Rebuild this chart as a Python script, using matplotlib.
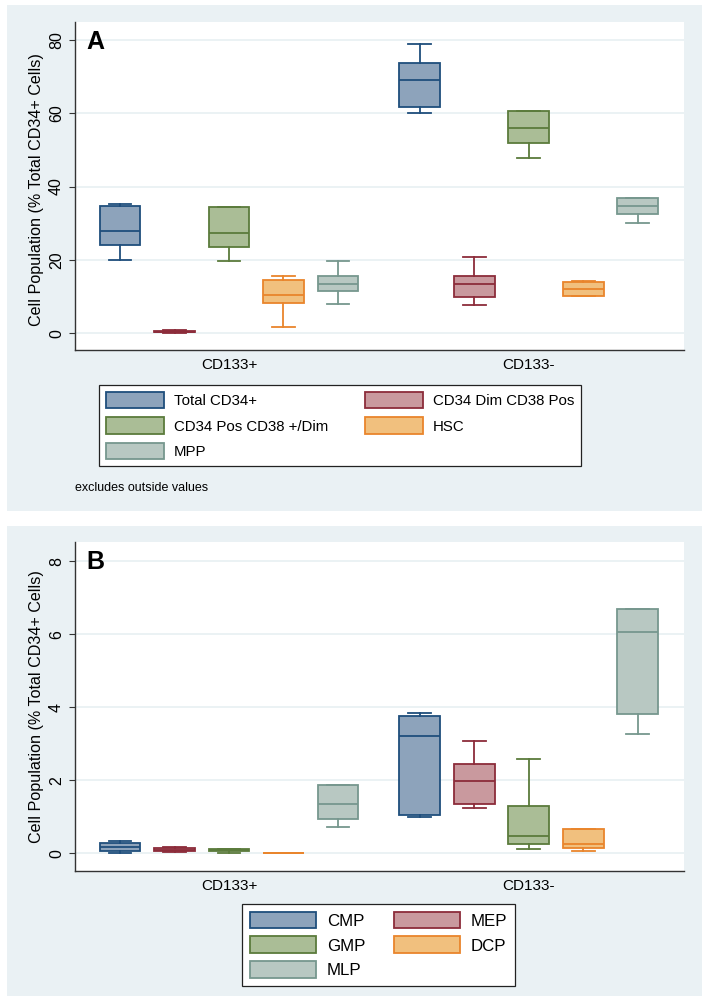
import matplotlib
matplotlib.use("Agg")
import matplotlib.pyplot as plt
from matplotlib.patches import Rectangle, Patch

plt.rcParams['font.family'] = ['Liberation Sans', 'DejaVu Sans']

groups = ["CD133+", "CD133-"]

# Panel A series (per group: [CD133+, CD133-])
series_a = ["Total CD34+", "CD34 Dim CD38 Pos", "CD34 Pos CD38 +/Dim", "HSC", "MPP"]
a_whislo = [[20.0, 60.2], [0.1, 7.8], [19.6, 47.8], [1.8, 10.2], [8.0, 30.0]]
a_q1     = [[24.0, 61.6], [0.2, 9.9], [23.6, 51.9], [8.1, 10.2], [11.6, 32.6]]
a_med    = [[28.0, 69.0], [0.4, 13.3], [27.4, 56.1], [10.3, 12.1], [13.4, 34.6]]
a_q3     = [[34.7, 73.6], [0.7, 15.5], [34.3, 60.5], [14.6, 13.9], [15.5, 36.9]]
a_whishi = [[35.3, 78.8], [0.9, 20.8], [34.3, 60.5], [15.6, 14.2], [19.8, 36.9]]

# Panel B series
series_b = ["CMP", "MEP", "GMP", "DCP", "MLP"]
b_whislo = [[0.00, 1.00], [0.03, 1.24], [0.00, 0.11], [0.00, 0.07], [0.71, 3.26]]
b_q1     = [[0.07, 1.04], [0.05, 1.36], [0.06, 0.25], [0.00, 0.14], [0.94, 3.82]]
b_med    = [[0.17, 3.22], [0.10, 1.97], [0.09, 0.47], [0.00, 0.26], [1.35, 6.07]]
b_q3     = [[0.28, 3.77], [0.15, 2.44], [0.12, 1.29], [0.01, 0.67], [1.87, 6.68]]
b_whishi = [[0.34, 3.85], [0.17, 3.08], [0.13, 2.59], [0.01, 0.67], [1.87, 6.68]]

fills = ["#8DA3BB", "#C9999E", "#AABD96", "#F1C07E", "#B8C8C2"]
edges = ["#1F4E7C", "#8C2C3A", "#5B7B3C", "#E9852C", "#76978E"]

yticks_a = [0, 20, 40, 60, 80]
yticks_b = [0, 2, 4, 6, 8]

fig = plt.figure(figsize=(7.08, 10), dpi=100)
W, H = 708, 1000
bg = "#EAF1F4"

def frect(x0, y0, x1, y1):
    return (x0 / W, 1 - y1 / H, (x1 - x0) / W, (y1 - y0) / H)

for (x0, y0, x1, y1) in [(7, 5, 702, 511), (7, 526, 702, 996)]:
    r = frect(x0, y0, x1, y1)
    fig.patches.append(Rectangle(r[:2], r[2], r[3], transform=fig.transFigure,
                                 facecolor=bg, edgecolor="none", zorder=-10))

def panel(rect, series, lo, q1, med, q3, hi, yticks, ylim, letter, ylabel, ylab_y):
    ax = fig.add_axes(rect)
    ax.set_facecolor("white")
    stats = []
    pos = []
    for g in range(2):
        for i in range(5):
            stats.append(dict(whislo=lo[i][g], q1=q1[i][g], med=med[i][g],
                              q3=q3[i][g], whishi=hi[i][g], fliers=[]))
            pos.append(i + 5.5 * g)
    bp = ax.bxp(stats, positions=pos, widths=0.75, capwidths=0.42,
                patch_artist=True, showfliers=False)
    for k, b in enumerate(bp['boxes']):
        i = k % 5
        b.set_facecolor(fills[i]); b.set_edgecolor(edges[i]); b.set_linewidth(1.3)
        bp['medians'][k].set_color(edges[i]); bp['medians'][k].set_linewidth(1.3)
        for w in bp['whiskers'][2 * k:2 * k + 2]:
            w.set_color(edges[i]); w.set_linewidth(1.3)
        for c in bp['caps'][2 * k:2 * k + 2]:
            c.set_color(edges[i]); c.set_linewidth(1.3)
    ax.set_xlim(-0.826, 10.35)
    ax.set_ylim(*ylim)
    ax.set_yticks(yticks)
    ax.set_yticklabels([str(t) for t in yticks], rotation=90, va="center", fontsize=11.5)
    ax.set_xticks([2, 7.5])
    ax.set_xticklabels(groups, fontsize=11)
    ax.tick_params(axis="x", length=0, pad=6)
    ax.tick_params(axis="y", length=4, width=0.8, color="#333333", pad=4)
    ax.yaxis.grid(True, color="#E8F0F2", linewidth=1.2)
    ax.set_axisbelow(True)
    for s in ["top", "right"]:
        ax.spines[s].set_visible(False)
    for s in ["left", "bottom"]:
        ax.spines[s].set_color("#333333"); ax.spines[s].set_linewidth(1.0)
    ax.set_ylabel(ylabel, fontsize=11.6, labelpad=3)
    ax.yaxis.set_label_coords(-0.051, ylab_y)
    ax.text(0.018, 0.975, letter, transform=ax.transAxes, fontsize=18,
            fontweight="bold", va="top", ha="left")
    return ax

ylab = "Cell Population (% Total CD34+ Cells)"
axA = panel([75 / W, 1 - 350 / H, 609 / W, 328 / H], series_a, a_whislo, a_q1, a_med,
            a_q3, a_whishi, yticks_a, (-4.6, 84.9), "A", ylab, 0.49)
axB = panel([75 / W, 1 - 870.7 / H, 609 / W, 329 / H], series_b, b_whislo, b_q1, b_med,
            b_q3, b_whishi, yticks_b, (-0.476, 8.53), "B", ylab, 0.5)

def make_legend(series, order, x0, y0, fs, hl, cs, hh, ls):
    handles = [Patch(facecolor=fills[i], edgecolor=edges[i], linewidth=1.3, label=series[i])
               for i in order]
    leg = fig.legend(handles=handles, ncol=2, loc="upper left",
                     bbox_to_anchor=(x0 / W, 1 - y0 / H),
                     fontsize=fs, frameon=True, fancybox=False, handlelength=hl,
                     handleheight=hh, handletextpad=0.65, labelspacing=ls,
                     columnspacing=cs, borderpad=0.45, borderaxespad=0)
    leg.get_frame().set_edgecolor("#222222")
    leg.get_frame().set_linewidth(0.9)
    leg.get_frame().set_alpha(1)
    return leg

make_legend(series_a, [0, 2, 4, 1, 3], 99, 385, 10.8, 3.87, 2.5, 1.3, 0.62)
make_legend(series_b, [0, 2, 4, 1, 3], 242, 904, 12.2, 3.9, 1.7, 1.15, 0.45)

fig.text(75 / W, 1 - 488 / H, "excludes outside values", fontsize=9, va="center", ha="left")

fig.savefig("out.png", dpi=100, facecolor="white")
